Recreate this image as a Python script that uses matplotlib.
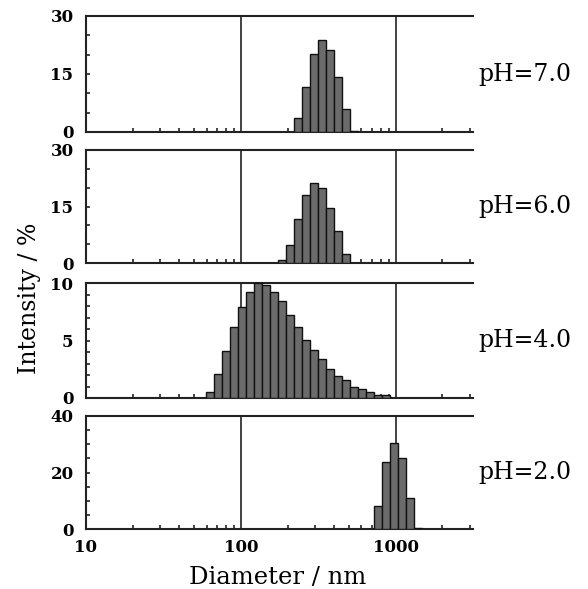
import numpy as np
import matplotlib
matplotlib.use("Agg")
import matplotlib.pyplot as plt
from matplotlib.ticker import LogLocator, MultipleLocator, NullFormatter, FixedLocator

# ---- data ----
labels = ["pH=7.0", "pH=6.0", "pH=4.0", "pH=2.0"]

d_ph7 = [233.5, 262.9, 296.0, 333.3, 375.3, 422.6, 475.8, 535.7]
i_ph7 = [3.6, 11.7, 20.1, 23.8, 21.2, 14.3, 5.9, 0.3]

d_ph6 = [184.2, 207.4, 233.5, 262.9, 296.0, 333.3, 375.3, 422.6, 475.8]
i_ph6 = [0.7, 4.9, 11.7, 18.1, 21.2, 19.9, 14.7, 8.4, 2.5]

d_ph4 = [63.4, 71.3, 80.3, 90.4, 101.8, 114.6, 129.1, 145.3, 163.6, 184.2,
         207.4, 233.5, 262.9, 296.0, 333.3, 375.3, 422.6, 475.8, 535.7,
         603.2, 679.1, 764.6, 861.0]
i_ph4 = [0.5, 2.1, 4.05, 6.15, 7.95, 9.2, 10.0, 9.85, 9.2, 8.4, 7.25, 6.15,
         5.05, 4.2, 3.4, 2.5, 1.95, 1.55, 1.0, 0.75, 0.5, 0.3, 0.25]

d_ph2 = [764.6, 861.0, 969.4, 1091.5, 1228.9, 1383.6]
i_ph2 = [8.2, 23.6, 30.3, 25.2, 11.1, 0.35]

y_max = [30, 30, 10, 40]
y_major = [[0, 15, 30], [0, 15, 30], [0, 5, 10], [0, 20, 40]]
y_minor_step = [5, 5, 1, 5]
x_ticks = [10, 100, 1000]
x_tick_labels = ["10", "100", "1000"]

bin_log_width = 0.0515  # width of one size class in decades

series = [(d_ph7, i_ph7), (d_ph6, i_ph6), (d_ph4, i_ph4), (d_ph2, i_ph2)]

# ---- layout ----
W, H = 588, 589
fig = plt.figure(figsize=(W / 100, H / 100), dpi=100)
panels_px = [(16, 132), (150, 263), (283, 398), (416, 529)]
left_px, right_px = 86, 473

serif = ["DejaVu Serif"]
edge_col = "#222222"

axes = []
for k, ((top, bot), (d, v)) in enumerate(zip(panels_px, series)):
    ax = fig.add_axes([left_px / W, 1 - bot / H, (right_px - left_px) / W, (bot - top) / H])
    axes.append(ax)
    ax.set_xscale("log")
    ax.set_xlim(10, 3150)
    ax.set_ylim(0, y_max[k])
    for xv in (100, 1000):
        ax.axvline(xv, color="#333333", lw=1.3, zorder=1)
    d = np.asarray(d, float)
    lo = d * 10 ** (-bin_log_width / 2)
    hi = d * 10 ** (bin_log_width / 2)
    ax.bar(lo, v, width=hi - lo, align="edge", color="#6b6b6b",
           edgecolor="#111111", linewidth=1.0, zorder=3)
    for s in ("top", "left", "bottom"):
        ax.spines[s].set_linewidth(1.5)
        ax.spines[s].set_color(edge_col)
    ax.spines["right"].set_visible(False)

    ax.xaxis.set_major_locator(FixedLocator(x_ticks))
    ax.xaxis.set_minor_locator(LogLocator(base=10, subs=np.arange(2, 10), numticks=20))
    ax.xaxis.set_minor_formatter(NullFormatter())
    ax.yaxis.set_major_locator(FixedLocator(y_major[k]))
    ax.yaxis.set_minor_locator(MultipleLocator(y_minor_step[k]))
    ax.tick_params(axis="both", which="both", direction="in", length=3, width=1.2,
                   color=edge_col, top=False, right=False)
    ax.tick_params(axis="x", which="major", length=0)
    ax.set_yticklabels([str(t) for t in y_major[k]], fontfamily=serif,
                       fontweight="bold", fontsize=12)
    ax.tick_params(axis="y", which="major", pad=9)
    if k < 3:
        ax.set_xticklabels([])
    else:
        ax.set_xticklabels(x_tick_labels, fontfamily=serif, fontweight="bold", fontsize=12)
        ax.tick_params(axis="x", which="major", pad=7)
    ax.text((478 - left_px) / (right_px - left_px), 0.5, labels[k],
            transform=ax.transAxes, ha="left", va="center",
            fontfamily=serif, fontsize=17)

fig.text(278 / W, 1 - 577 / H, "Diameter / nm",
         ha="center", va="center", fontfamily=serif, fontsize=17.5)
fig.text(30 / W, 1 - 298 / H, "Intensity / %", rotation=90,
         ha="center", va="center", fontfamily=serif, fontsize=17)

fig.savefig("out.png", dpi=100, facecolor="white")
